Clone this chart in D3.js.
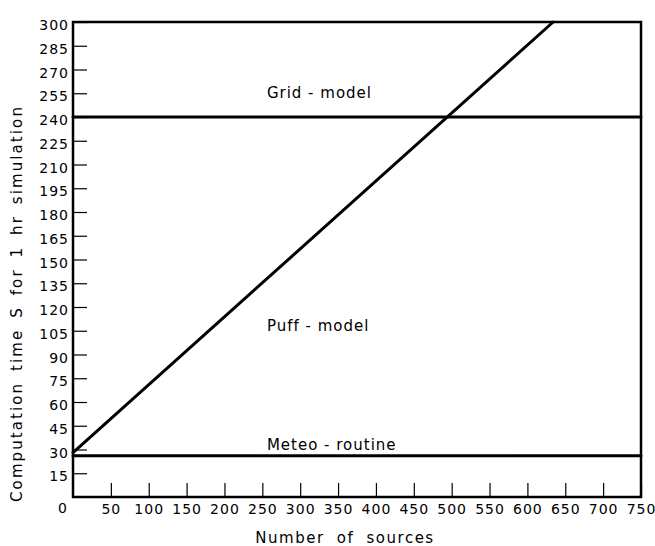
<!DOCTYPE html>
<html>
<head>
<meta charset="utf-8">
<script src="https://cdn.jsdelivr.net/npm/d3@7"></script>
<style>
  body { margin: 0; background: #fff; }
  text { font-family: "DejaVu Sans", sans-serif; fill: #000; }
</style>
</head>
<body>
<div id="chart"></div>
<script>
// values
const xTicks = [50, 100, 150, 200, 250, 300, 350, 400, 450, 500, 550, 600, 650, 700, 750];
const yTicks = [15, 30, 45, 60, 75, 90, 105, 120, 135, 150, 165, 180, 195, 210, 225, 240, 255, 270, 285, 300];
const puffModel = [[0, 28], [634, 300]];
const gridModel = [[0, 240], [750, 240]];
const meteoRoutine = [[0, 26], [750, 26]];
const lineLabels = [
    {text: "Grid - model", x: 256, y: 252},
    {text: "Puff - model", x: 256, y: 105},
    {text: "Meteo - routine", x: 256, y: 30}
];

function drawChart()
{
    width = 655;
    height = 546;
    margin = ({top: 22, right: 14, bottom: 49, left: 73});

    const xScale = d3.scaleLinear([0, 750], [margin.left, width - margin.right]);
    const yScale = d3.scaleLinear([0, 300], [height - margin.bottom, margin.top]);

    const svg = d3.select("#chart").append("svg")
        .attr("width", width)
        .attr("height", height)
        .attr("viewBox", [0, 0, width, height]);

    // x axis, ticks pointing up into the plot
    svg.append("g")
        .attr("transform", `translate(0,${yScale(0)})`)
        .call(d3.axisBottom(xScale).tickValues(xTicks).tickSize(-14).tickPadding(20).tickSizeOuter(0))
        .call(g => g.select(".domain").remove())
        .call(g => g.selectAll(".tick line").attr("stroke-width", 1.2))
        .call(g => g.selectAll(".tick text")
            .attr("font-size", 14)
            .attr("letter-spacing", 1)
            .attr("dy", "-0.2em"));

    // y axis, ticks pointing right into the plot
    svg.append("g")
        .attr("transform", `translate(${xScale(0)},0)`)
        .call(d3.axisLeft(yScale).tickValues(yTicks).tickSize(-14).tickPadding(4).tickSizeOuter(0))
        .call(g => g.select(".domain").remove())
        .call(g => g.selectAll(".tick line").attr("stroke-width", 1.2))
        .call(g => g.selectAll(".tick text")
            .attr("font-size", 14)
            .attr("letter-spacing", 1)
            .attr("dy", "0.55em"));

    // shared corner zero
    svg.append("text")
        .attr("x", xScale(0) - 6)
        .attr("y", yScale(0) + 16)
        .attr("text-anchor", "end")
        .attr("font-size", 14)
        .text("0");

    // frame
    svg.append("rect")
        .attr("x", xScale(0))
        .attr("y", yScale(300))
        .attr("width", xScale(750) - xScale(0))
        .attr("height", yScale(0) - yScale(300))
        .attr("fill", "none")
        .attr("stroke", "#000")
        .attr("stroke-width", 2.5);

    const line = d3.line().x(d => xScale(d[0])).y(d => yScale(d[1]));

    svg.append("g")
        .attr("fill", "none")
        .attr("stroke", "#000")
        .attr("stroke-width", 3)
        .attr("stroke-linecap", "round")
        .selectAll("path")
        .data([gridModel, meteoRoutine, puffModel])
        .join("path")
        .attr("d", line);

    svg.append("g")
        .selectAll("text")
        .data(lineLabels)
        .join("text")
        .attr("x", d => xScale(d.x))
        .attr("y", d => yScale(d.y))
        .attr("font-size", 15)
        .attr("letter-spacing", 1)
        .text(d => d.text);

    // axis titles
    svg.append("text")
        .attr("x", (xScale(0) + xScale(750)) / 2 - 12)
        .attr("y", height - 3)
        .attr("text-anchor", "middle")
        .attr("font-size", 15)
        .attr("letter-spacing", 1.5)
        .attr("word-spacing", 6)
        .text("Number of sources");

    svg.append("text")
        .attr("transform", `translate(22,${(yScale(0) + yScale(300)) / 2 + 44}) rotate(-90)`)
        .attr("text-anchor", "middle")
        .attr("font-size", 15)
        .attr("letter-spacing", 2.1)
        .attr("word-spacing", 4)
        .text("Computation time S for 1 hr simulation");
}

drawChart();
</script>
</body>
</html>
